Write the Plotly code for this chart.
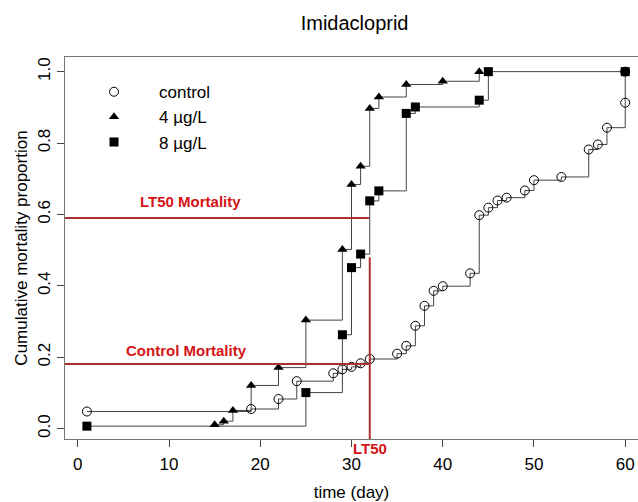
import plotly.graph_objects as go

# ---- data ----
control_day = [1, 19, 22, 24, 28, 29, 30, 31, 32, 35, 36, 37, 38, 39, 40, 43, 44, 45, 46, 47, 49, 50, 53, 56, 57, 58, 60, 60]
control_prop = [0.048, 0.055, 0.083, 0.133, 0.155, 0.166, 0.173, 0.183, 0.195, 0.210, 0.232, 0.288, 0.344, 0.386, 0.399, 0.435, 0.598, 0.619, 0.639, 0.647, 0.667, 0.696, 0.705, 0.782, 0.796, 0.843, 0.913, 1.0]

imi4_day = [15, 16, 17, 19, 22, 25, 29, 30, 31, 32, 33, 36, 40, 44]
imi4_prop = [0.011, 0.021, 0.051, 0.121, 0.171, 0.304, 0.502, 0.684, 0.735, 0.897, 0.929, 0.964, 0.973, 1.0]

imi8_day = [1, 25, 29, 30, 31, 32, 33, 36, 37, 44, 45, 60]
imi8_prop = [0.007, 0.101, 0.263, 0.451, 0.489, 0.638, 0.666, 0.883, 0.901, 0.920, 1.0, 1.0]

series_names = ["control", "4 µg/L", "8 µg/L"]

lt50_day = 32
lt50_mortality = 0.59
control_mortality = 0.181
lt50_line_top = 0.48

x_ticks = [0, 10, 20, 30, 40, 50, 60]
y_ticks = [0.0, 0.2, 0.4, 0.6, 0.8, 1.0]

x_range = [-1.4, 61.4]
y_range = [-0.029, 1.041]

FONT = "Liberation Sans, Arial, sans-serif"
RED_LINE = "#a83232"
RED_TEXT = "#d41414"
STEP = "#444444"

fig = go.Figure()

# step lines
for xs, ys in [(control_day, control_prop), (imi4_day, imi4_prop), (imi8_day, imi8_prop)]:
    fig.add_trace(go.Scatter(x=xs, y=ys, mode="lines", line=dict(shape="hv", color=STEP, width=1),
                             showlegend=False, hoverinfo="skip"))

# markers
fig.add_trace(go.Scatter(x=control_day, y=control_prop, mode="markers", name=series_names[0],
                         marker=dict(symbol="circle-open", size=9, color="black", line=dict(width=1, color="black"))))
fig.add_trace(go.Scatter(x=imi4_day, y=imi4_prop, mode="markers", name=series_names[1],
                         marker=dict(symbol="triangle-up", size=9, color="black")))
fig.add_trace(go.Scatter(x=imi8_day, y=imi8_prop, mode="markers", name=series_names[2],
                         marker=dict(symbol="square", size=9, color="black")))

# reference lines
fig.add_shape(type="line", xref="x", yref="y", x0=x_range[0], x1=lt50_day, y0=lt50_mortality, y1=lt50_mortality,
              line=dict(color=RED_LINE, width=2))
fig.add_shape(type="line", xref="x", yref="y", x0=x_range[0], x1=lt50_day, y0=control_mortality, y1=control_mortality,
              line=dict(color=RED_LINE, width=2))
fig.add_shape(type="line", xref="x", yref="y", x0=lt50_day, x1=lt50_day, y0=y_range[0], y1=lt50_line_top,
              line=dict(color=RED_LINE, width=2))

fig.add_annotation(x=12.3, y=lt50_mortality + 0.045, xref="x", yref="y", text="<b>LT50 Mortality</b>",
                   showarrow=False, font=dict(family=FONT, size=15, color=RED_TEXT))
fig.add_annotation(x=11.9, y=control_mortality + 0.038, xref="x", yref="y", text="<b>Control Mortality</b>",
                   showarrow=False, font=dict(family=FONT, size=15, color=RED_TEXT))
fig.add_annotation(x=lt50_day, y=y_range[0], xref="x", yref="y", yanchor="top", yshift=1, text="<b>LT50</b>",
                   showarrow=False, font=dict(family=FONT, size=15, color=RED_TEXT))

fig.update_layout(
    width=638, height=502,
    margin=dict(l=65, r=0, t=57, b=63),
    paper_bgcolor="white", plot_bgcolor="white",
    font=dict(family=FONT, size=17, color="black"),
    title=dict(text="Imidacloprid", x=354.6 / 638, xanchor="center", y=1 - 23 / 502, yanchor="middle",
               font=dict(family=FONT, size=20, color="black")),
    legend=dict(x=0.007, y=0.955, xanchor="left", yanchor="top", bgcolor="rgba(0,0,0,0)",
                font=dict(family=FONT, size=17), itemwidth=80),
    xaxis=dict(range=x_range, tickvals=x_ticks, ticks="outside", ticklen=7, tickcolor="#444",
               showline=True, linecolor="#777", linewidth=1, mirror=True, showgrid=False, zeroline=False,
               tickfont=dict(size=17), ticklabelstandoff=3, automargin=False,
               title=dict(text="time (day)", standoff=14, font=dict(size=17))),
    yaxis=dict(range=y_range, tickvals=y_ticks, tickformat=".1f", ticks="outside", ticklen=7, tickcolor="#444",
               showline=True, linecolor="#777", linewidth=1, showgrid=False, zeroline=False,
               tickangle=-90, tickfont=dict(size=17), automargin=False,
               title=dict(text="Cumulative mortality proportion", standoff=3, font=dict(size=17))),
)

fig.write_html("out.html", config={"displayModeBar": False},
               post_script="document.body.style.margin='0px';")
